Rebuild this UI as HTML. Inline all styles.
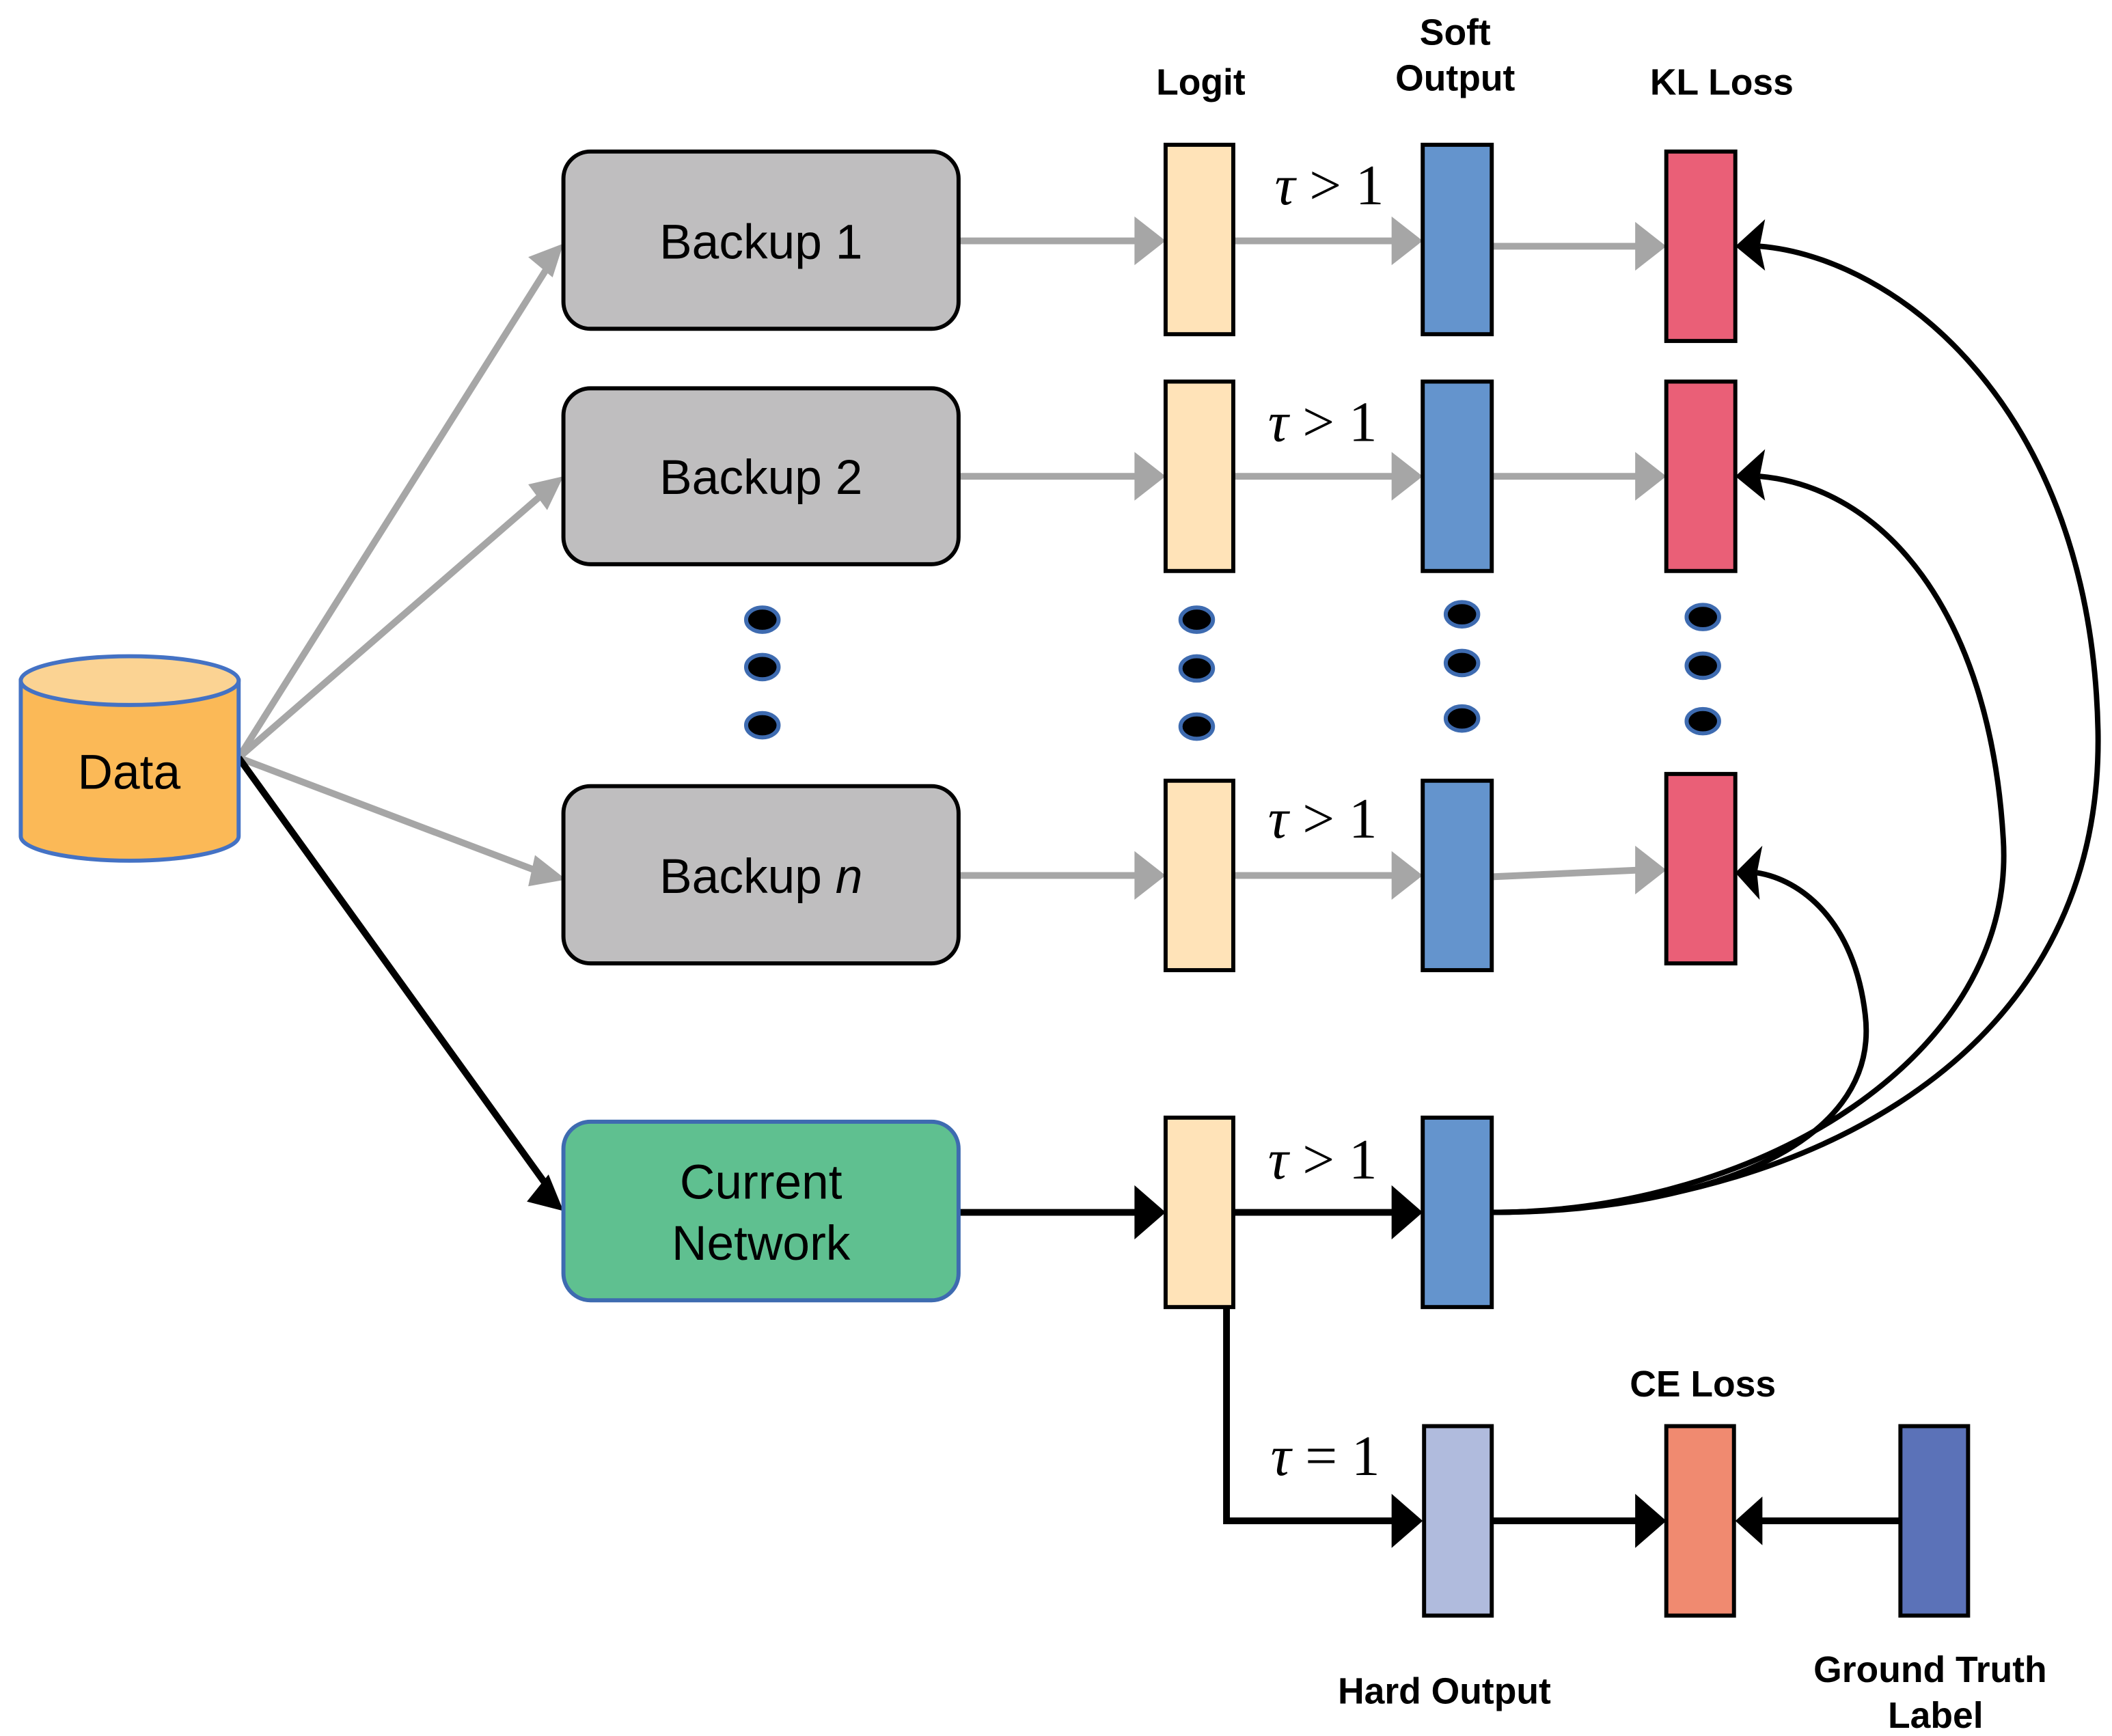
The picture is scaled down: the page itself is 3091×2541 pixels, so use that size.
<!DOCTYPE html>
<html><head><style>html,body{margin:0;padding:0;background:#fff}svg{display:block}</style></head>
<body>
<svg width="3091" height="2541" viewBox="0 0 1560 1283" xmlns="http://www.w3.org/2000/svg" font-family="Liberation Sans, sans-serif">
<g stroke="#A6A6A6" stroke-width="5" fill="none">
<line x1="176" y1="560" x2="404" y2="198"/>
<line x1="176" y1="560" x2="402" y2="364"/>
<line x1="176" y1="560" x2="400" y2="645"/>
<line x1="708" y1="178" x2="842" y2="178"/><line x1="911" y1="178" x2="1032" y2="178"/><line x1="1102" y1="182" x2="1212" y2="182"/>
<line x1="708" y1="352" x2="842" y2="352"/><line x1="911" y1="352" x2="1032" y2="352"/><line x1="1102" y1="352" x2="1212" y2="352"/>
<line x1="708" y1="647" x2="842" y2="647"/><line x1="911" y1="647" x2="1032" y2="647"/><line x1="1102" y1="648" x2="1212" y2="643"/>
</g>
<g fill="#A6A6A6">
<polygon points="416,180 390,190 408,205"/>
<polygon points="416,352 390,358 404,377"/>
<polygon points="418,650 395,632 390,655"/>
<polygon points="861,178 838,160 838,196"/><polygon points="1051,178 1028,160 1028,196"/><polygon points="1231,182 1208,164 1208,200"/>
<polygon points="861,352 838,334 838,370"/><polygon points="1051,352 1028,334 1028,370"/><polygon points="1231,352 1208,334 1208,370"/>
<polygon points="861,647 838,629 838,665"/><polygon points="1051,647 1028,629 1028,665"/><polygon points="1231,643 1208,625 1208,661"/>
</g>
<g stroke="#000" stroke-width="5" fill="none">
<line x1="176" y1="560" x2="405" y2="878"/>
<line x1="708" y1="896" x2="842" y2="896"/><line x1="911" y1="896" x2="1032" y2="896"/>
<polyline points="906,966 906,1124 1032,1124"/>
<line x1="1102" y1="1124" x2="1212" y2="1124"/>
<line x1="1404" y1="1124" x2="1300" y2="1124"/>
<path stroke-width="4" d="M1102,896 C1300,896 1555,800 1550,540 C1545,300 1400,190 1300,182"/>
<path stroke-width="4" d="M1102,896 C1300,896 1490,780 1480,620 C1470,450 1390,360 1300,352"/>
<path stroke-width="4" d="M1102,896 C1250,896 1390,850 1378,750 C1370,680 1330,650 1298,645"/>
</g>
<g fill="#000">
<polygon points="416,895 389,888 405,868"/>
<polygon points="861,896 838,876 838,916"/><polygon points="1051,896 1028,876 1028,916"/>
<polygon points="1051,1124 1028,1104 1028,1144"/><polygon points="1231,1124 1208,1104 1208,1144"/><polygon points="1282,1124 1302,1106 1302,1142"/>
<polygon points="1282,182 1304,162 1300,182 1304,200"/>
<polygon points="1282,352 1304,332 1300,352 1304,370"/>
<polygon points="1282,645 1302,625 1298,645 1300,665"/>
</g>
<path d="M15,503 L15,618 A80,18 0 0 0 176,618 L176,503 Z" fill="#FBB957" stroke="#4472C4" stroke-width="3"/>
<ellipse cx="95.5" cy="503" rx="80.5" ry="18" fill="#FBD393" stroke="#4472C4" stroke-width="3"/>
<text x="95" y="583" font-size="36" text-anchor="middle">Data</text>
<g stroke="#000" stroke-width="3" fill="#BFBEBF">
<rect x="416" y="112" width="292" height="131" rx="20"/>
<rect x="416" y="287" width="292" height="130" rx="20"/>
<rect x="416" y="581" width="292" height="131" rx="20"/>
</g>
<rect x="416" y="829" width="292" height="132" rx="20" fill="#5FC090" stroke="#3E6BB0" stroke-width="3"/>
<g font-size="36" text-anchor="middle">
<text x="562" y="191">Backup 1</text>
<text x="562" y="365">Backup 2</text>
<text x="562" y="660">Backup <tspan font-style="italic">n</tspan></text>
<text x="562" y="886">Current</text>
<text x="562" y="931">Network</text>
</g>
<g stroke="#000" stroke-width="3">
<g fill="#FFE3B8"><rect x="861" y="107" width="50" height="140"/><rect x="861" y="282" width="50" height="140"/><rect x="861" y="577" width="50" height="140"/><rect x="861" y="826" width="50" height="140"/></g>
<g fill="#6494CD"><rect x="1051" y="107" width="51" height="140"/><rect x="1051" y="282" width="51" height="140"/><rect x="1051" y="577" width="51" height="140"/><rect x="1051" y="826" width="51" height="140"/></g>
<g fill="#EA5F77"><rect x="1231" y="112" width="51" height="140"/><rect x="1231" y="282" width="51" height="140"/><rect x="1231" y="572" width="51" height="140"/></g>
<rect x="1052" y="1054" width="50" height="140" fill="#B0BBDD"/>
<rect x="1231" y="1054" width="50" height="140" fill="#F08A70"/>
<rect x="1404" y="1054" width="50" height="140" fill="#5B72B8"/>
</g>
<g fill="#000" stroke="#3E6BB0" stroke-width="3">
<ellipse cx="563" cy="458" rx="12" ry="9"/><ellipse cx="563" cy="493" rx="12" ry="9"/><ellipse cx="563" cy="536" rx="12" ry="9"/>
<ellipse cx="884" cy="458" rx="12" ry="9"/><ellipse cx="884" cy="494" rx="12" ry="9"/><ellipse cx="884" cy="537" rx="12" ry="9"/>
<ellipse cx="1080" cy="454" rx="12" ry="9"/><ellipse cx="1080" cy="490" rx="12" ry="9"/><ellipse cx="1080" cy="531" rx="12" ry="9"/>
<ellipse cx="1258" cy="456" rx="12" ry="9"/><ellipse cx="1258" cy="492" rx="12" ry="9"/><ellipse cx="1258" cy="533" rx="12" ry="9"/>
</g>
<g font-family="Liberation Serif, serif" font-size="42" text-anchor="middle">
<text x="982" y="151"><tspan font-style="italic">τ</tspan> &gt; 1</text>
<text x="977" y="326"><tspan font-style="italic">τ</tspan> &gt; 1</text>
<text x="977" y="619"><tspan font-style="italic">τ</tspan> &gt; 1</text>
<text x="977" y="871"><tspan font-style="italic">τ</tspan> &gt; 1</text>
<text x="979" y="1090"><tspan font-style="italic">τ</tspan> = 1</text>
</g>
<g font-size="27" font-weight="bold" text-anchor="middle">
<text x="887" y="70">Logit</text>
<text x="1075" y="33">Soft</text>
<text x="1075" y="67">Output</text>
<text x="1272" y="70">KL Loss</text>
<text x="1258" y="1032">CE Loss</text>
<text x="1067" y="1259">Hard Output</text>
<text x="1426" y="1243">Ground Truth</text>
<text x="1430" y="1277">Label</text>
</g>
</svg>
</body></html>
